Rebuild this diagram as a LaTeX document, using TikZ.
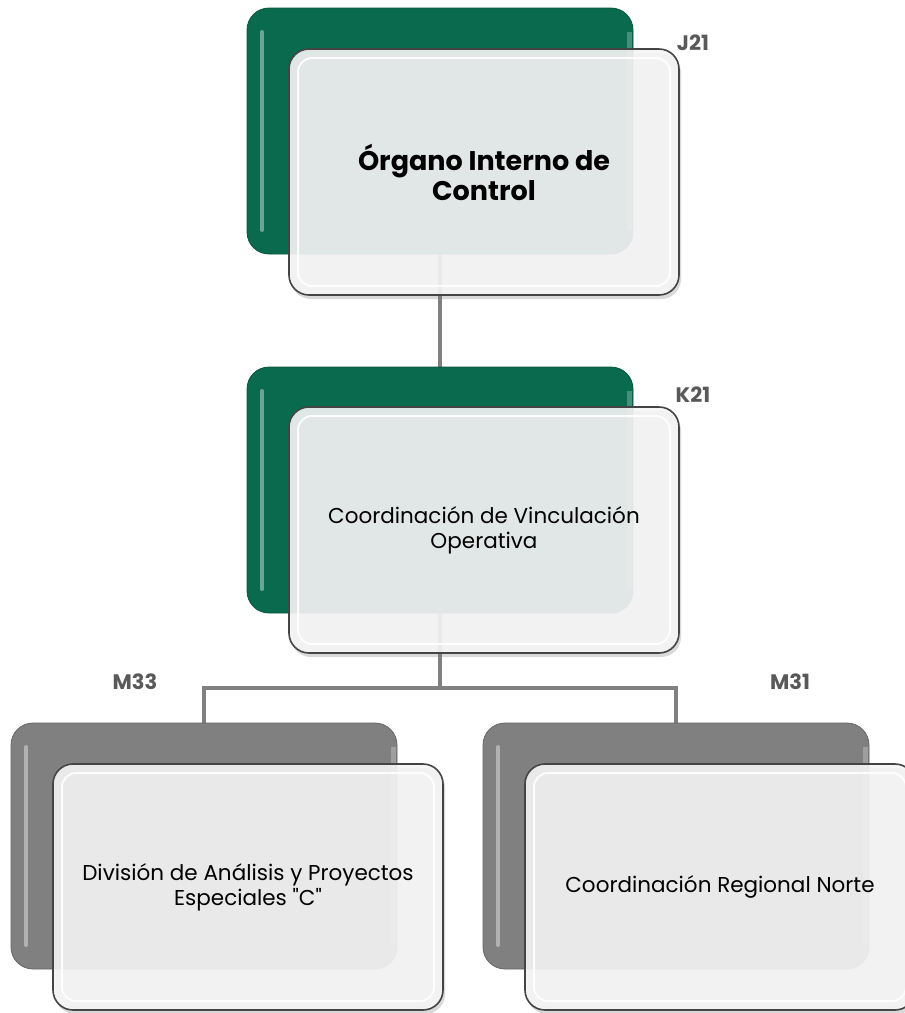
\documentclass[tikz,border=0pt]{standalone}
\usepackage{fontspec}
\setmainfont{Poppins}[Ligatures=TeXOff]
\definecolor{pine}{HTML}{0A6A4D}
\definecolor{ash}{HTML}{808080}
\definecolor{smoke}{HTML}{F5F5F5}
\definecolor{ink}{HTML}{444444}
\definecolor{slate}{HTML}{595959}
\usepackage{tikz}
\usetikzlibrary{calc, positioning, shadows, backgrounds}

\tikzset{
  backbox/.style={fill=#1, draw=#1!80!black, line width=0.8pt, rounded corners=22pt,
    minimum width=386pt, minimum height=246pt, inner sep=0pt,
    path picture={
      \draw[white, opacity=0.4, line width=4pt, line cap=round]
        ([xshift=15pt,yshift=-24pt]path picture bounding box.north west) --
        ([xshift=15pt,yshift=24pt]path picture bounding box.south west);
      \draw[white, opacity=0.25, line width=5pt]
        ([xshift=-4pt,yshift=-24pt]path picture bounding box.north east) --
        ([xshift=-4pt,yshift=24pt]path picture bounding box.south east);
    }},
  frontbox/.style={fill=smoke, fill opacity=0.9, text opacity=1, draw=ink, line width=1.6pt,
    rounded corners=20pt, minimum width=390pt, minimum height=246pt, inner sep=0pt,
    align=center, font=\fontsize{21.5}{25}\selectfont,
    drop shadow={shadow xshift=2pt, shadow yshift=-4pt, opacity=0.3},
    path picture={
      \draw[white, opacity=0.9, line width=2pt, rounded corners=14pt]
        ([shift={(9pt,-9pt)}]path picture bounding box.north west) rectangle
        ([shift={(-9pt,9pt)}]path picture bounding box.south east);
    }},
  code/.style={font=\bfseries\fontsize{21}{24}\selectfont, text=slate},
  link/.style={draw=ash, line width=4.5pt}
}

\begin{document}
\begin{tikzpicture}[x=1pt, y=-1pt]
  \useasboundingbox (0,0) rectangle (905,1013);

  % head
  \node[backbox=pine] (oicB) at (440,131) {};
  \node[frontbox, font=\bfseries\fontsize{27}{30}\selectfont] (oic) at ($(oicB)+(44,41)$) {Órgano Interno de\\Control};
  \node[code] (j21) at (693,43) {J21};

  % coordination
  \node[backbox=pine] (cvoB) at (440,490) {};
  \node[frontbox] (cvo) at ($(cvoB)+(44,40)$) {Coordinación de Vinculación\\Operativa};
  \node[code] (k21) at (693,395) {K21};

  % bottom row
  \node[backbox=ash] (dapB) at (204,846) {};
  \node[frontbox] (dap) at ($(dapB)+(44,41)$) {División de Análisis y Proyectos\\Especiales "C"};
  \node[code] (m33) at (135,682) {M33};

  \node[backbox=ash] (crnB) at (676,846) {};
  \node[frontbox] (crn) at ($(crnB)+(44,41)$) {Coordinación Regional Norte};
  \node[code] (m31) at (790,682) {M31};

  % connectors
  \begin{scope}[on background layer]
    \draw[link] (oicB.south) -- (cvoB.north);
    \coordinate (bus) at (440,688);
    \draw[link] (cvoB.south) -- (bus);
    \draw[link] (dapB.north) |- (bus) -| (crnB.north);
  \end{scope}
\end{tikzpicture}
\end{document}
